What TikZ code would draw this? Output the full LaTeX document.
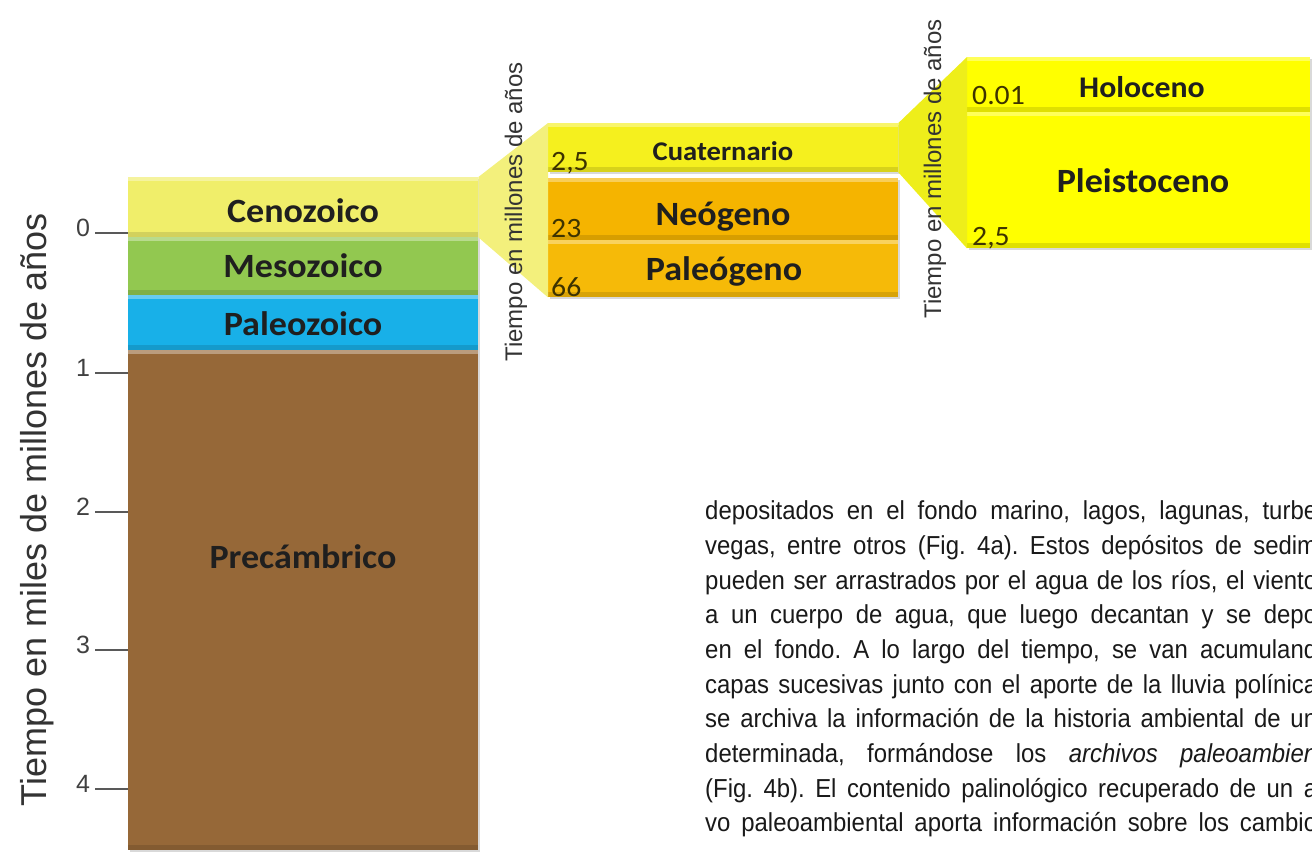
\documentclass[tikz,border=0pt]{standalone}
\usepackage{xcolor}
\usepackage{fontspec}
\usepackage{tikz}
\usetikzlibrary{shadows}
\setmainfont{Liberation Sans}
\newfontfamily\boxfont[FakeStretch=1.06]{Carlito}
\newfontfamily\narrowfont[FakeStretch=0.92]{Liberation Sans}
\frenchspacing

\definecolor{ceno}{HTML}{F0EE6A}
\definecolor{meso}{HTML}{92C850}
\definecolor{paleo}{HTML}{18B0E8}
\definecolor{prec}{HTML}{966838}
\definecolor{cuat}{HTML}{F5F01E}
\definecolor{neog}{HTML}{F5B400}
\definecolor{paleog}{HTML}{F6BA08}
\definecolor{holo}{HTML}{FFFF00}
\definecolor{funA}{HTML}{F3F07C}
\definecolor{funB}{HTML}{EEEE1A}
\definecolor{numcol}{HTML}{3D3300}

\tikzset{
  era/.style={rectangle, draw=none, anchor=north west, inner sep=0pt,
    drop shadow={opacity=.3, shadow xshift=2pt, shadow yshift=-2pt},
    path picture={
      \fill[white,opacity=.35] (path picture bounding box.north west) rectangle ([yshift=-4pt]path picture bounding box.north east);
      \fill[black,opacity=.12] ([yshift=5pt]path picture bounding box.south west) rectangle (path picture bounding box.south east);
    }},
  lab/.style={anchor=base, inner sep=0pt, text=black!88, font=\boxfont\bfseries\fontsize{#1}{#1}\selectfont},
  lab/.default=34,
  num/.style={anchor=base west, inner sep=0pt, text=numcol, font=\boxfont\fontsize{28}{28}\selectfont},
  ticklab/.style={anchor=base, inner sep=0pt, text=black!75, font=\fontsize{25}{25}\selectfont},
  axlab/.style={rotate=90, anchor=base, inner sep=0pt, text=black!80},
  line/.style={anchor=base west, inner sep=0pt, text=black!90, font=\narrowfont\fontsize{26}{26}\selectfont}
}

\begin{document}
\begin{tikzpicture}[x=1pt,y=-1pt]
\useasboundingbox (0,0) rectangle (1312,852);
\clip (0,0) rectangle (1312,852);

% eras
\node[era, fill=ceno, minimum width=350, minimum height=60] (ceno) at (128,177) {};
\node[era, fill=meso, minimum width=350, minimum height=58] (meso) at (128,237) {};
\node[era, fill=paleo, minimum width=350, minimum height=55] (paleo) at (128,295) {};
\node[era, fill=prec, minimum width=350, minimum height=500] (prec) at (128,350) {};
\node[lab] (cenol) at (303,222) {Cenozoico};
\node[lab] (mesol) at (303,277) {Mesozoico};
\node[lab] (paleol) at (303,335) {Paleozoico};
\node[lab] (precl) at (303,568) {Precámbrico};

% axis
\foreach \n/\y in {0/233,1/373,2/512,3/650,4/789} {
  \coordinate (tk\n) at (95,\y);
  \draw[black!65, line width=1.3pt] (tk\n) -- (tk\n -| prec.west);
  \node[ticklab] (tl\n) at (83,\y+3) {\n};
}
\node[axlab, font=\fontsize{36}{36}\selectfont] (axis) at (46,510) {Tiempo en miles de millones de años};

% periods
\node[era, fill=cuat, minimum width=350, minimum height=49] (cuat) at (548,123) {};
\node[era, fill=neog, minimum width=350, minimum height=62] (neog) at (548,178) {};
\node[era, fill=paleog, minimum width=350, minimum height=57] (paleog) at (548,240) {};
\fill[funA] (ceno.north east) -- (cuat.north west) -- (paleog.south west) -- (ceno.south east) -- cycle;
\node[lab=27] (cuatl) at (723,160) {Cuaternario};
\node[lab] (neogl) at (723,225) {Neógeno};
\node[lab] (paleogl) at (724,280) {Paleógeno};
\node[num] (n25a) at (551,170) {2,5};
\node[num] (n23) at (551,237) {23};
\node[num] (n66) at (551,296) {66};
\node[axlab, font=\fontsize{24}{24}\selectfont] (funtxtA) at (522,212) {Tiempo en millones de años};

% epochs
\node[era, fill=holo, minimum width=343, minimum height=55] (holo) at (967,57) {};
\node[era, fill=holo, minimum width=343, minimum height=136] (pleis) at (967,112) {};
\fill[funB] (cuat.north east) -- (holo.north west) -- (pleis.south west) -- (cuat.south east) -- cycle;
\node[lab=30] (holol) at (1142,97) {Holoceno};
\node[lab] (pleisl) at (1143,192) {Pleistoceno};
\node[num] (n001) at (972,104) {0.01};
\node[num] (n25b) at (972,245) {2,5};
\node[axlab, font=\fontsize{24}{24}\selectfont] (funtxtB) at (941,169) {Tiempo en millones de años};

% page text
\foreach \k/\t in {
  0/{depositados en el fondo marino, lagos, lagunas, turbe},
  1/{vegas, entre otros (Fig. 4a). Estos depósitos de sedim},
  2/{pueden ser arrastrados por el agua de los ríos, el viento},
  3/{a un cuerpo de agua, que luego decantan y se depo},
  4/{en el fondo. A lo largo del tiempo, se van acumuland},
  5/{capas sucesivas junto con el aporte de la lluvia polínica},
  6/{se archiva la información de la historia ambiental de un},
  7/{determinada, formándose los \textit{archivos paleoambien}},
  8/{(Fig. 4b). El contenido palinológico recuperado de un a},
  9/{vo paleoambiental aporta información sobre los cambio}}
  \node[line] (ln\k) at (705,519.6+34.7*\k) {\makebox[612pt][s]{\t}};
\end{tikzpicture}
\end{document}
